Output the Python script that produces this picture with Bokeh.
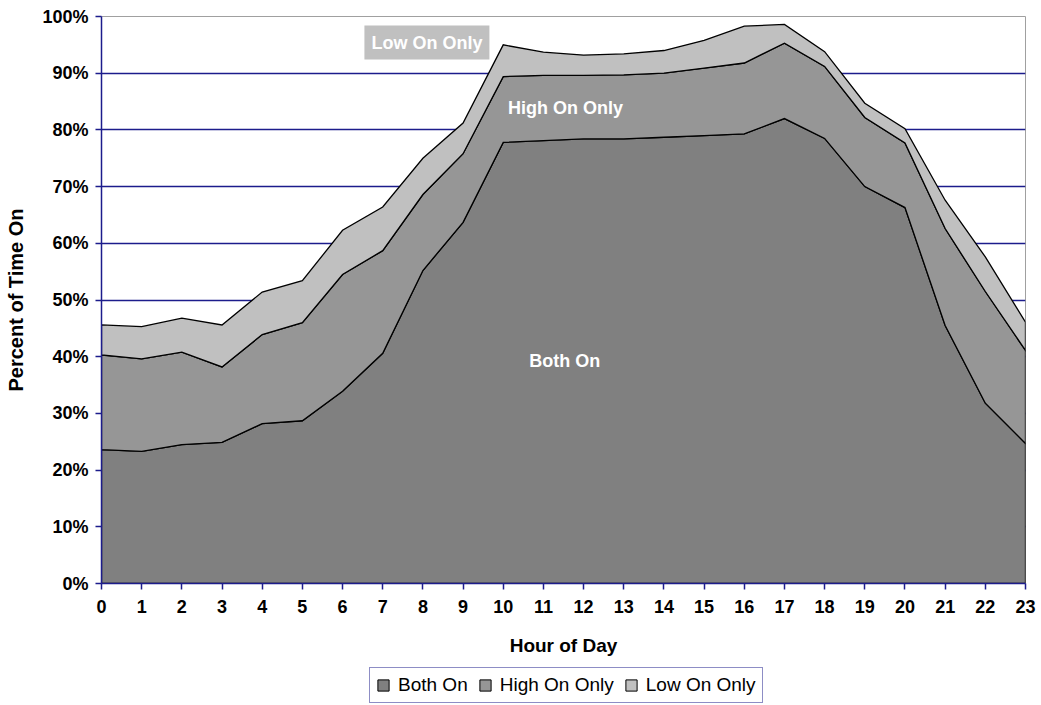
from bokeh.plotting import figure
from bokeh.layouts import column
from bokeh.models import (Label, Legend, LegendItem, FixedTicker,
                          PrintfTickFormatter, Range1d)
from bokeh.embed import file_html
from bokeh.resources import INLINE

# ---- data (percent of time on, by hour of day) ----
hours = list(range(24))
both_on = [23.6, 23.3, 24.5, 24.9, 28.2, 28.7, 33.9, 40.6, 55.2, 63.7, 77.8, 78.1,
           78.4, 78.4, 78.7, 79.0, 79.3, 82.0, 78.5, 70.0, 66.3, 45.5, 31.8, 24.7]
high_on_only = [16.7, 16.3, 16.3, 13.3, 15.7, 17.3, 20.6, 18.1, 13.4, 12.1, 11.6, 11.5,
                11.2, 11.3, 11.3, 11.9, 12.5, 13.3, 12.7, 12.2, 11.4, 17.1, 19.7, 16.4]
low_on_only = [5.3, 5.7, 6.0, 7.4, 7.5, 7.4, 7.8, 7.7, 6.4, 5.4, 5.6, 4.1,
               3.6, 3.7, 4.0, 4.9, 6.5, 3.3, 2.6, 2.5, 2.5, 5.0, 6.1, 5.0]
series_names = ["Both On", "High On Only", "Low On Only"]
colors = ["#808080", "#969696", "#c0c0c0"]
y_ticks = list(range(0, 101, 10))
x_ticks = hours

FONT = "Liberation Sans"
NAVY = "#1c1c8c"

p = figure(width=1041, height=660, x_range=Range1d(0, 23), y_range=Range1d(0, 100),
           output_backend="svg", toolbar_location=None,
           min_border_left=101, min_border_right=16, min_border_top=16, min_border_bottom=77)
p.background_fill_color = "white"
p.border_fill_color = "white"
p.outline_line_color = "#a0a0a0"
p.outline_line_width = 1

# legend strip (separate figure so the legend is not clipped by the chart frame)
lg = figure(width=1041, height=45, output_backend="svg", toolbar_location=None,
            x_axis_type=None, y_axis_type=None,
            min_border_left=0, min_border_right=0, min_border_top=0, min_border_bottom=0)
lg.outline_line_color = None
lg.xgrid.visible = False
lg.ygrid.visible = False

# stacked areas as outlined polygons built from the cumulative series
lower = [0.0] * len(hours)
items = []
for name, vals, c in zip(series_names, [both_on, high_on_only, low_on_only], colors):
    upper = [a + b for a, b in zip(lower, vals)]
    xs = hours + hours[::-1]
    ys = upper + lower[::-1]
    p.patch(x=xs, y=ys, fill_color=c, line_color="black", line_width=1.3, line_join="miter")
    r = lg.patch(x=xs, y=ys, fill_color=c, line_color="black", line_width=1, visible=False)
    items.append(LegendItem(label=name, renderers=[r]))
    lower = upper

# grid
p.xgrid.visible = False
p.ygrid.grid_line_color = NAVY
p.ygrid.grid_line_width = 1.5
p.ygrid.ticker = FixedTicker(ticks=y_ticks)

# axes
p.yaxis.ticker = FixedTicker(ticks=y_ticks)
p.yaxis.formatter = PrintfTickFormatter(format="%d%%")
p.xaxis.ticker = FixedTicker(ticks=x_ticks)
for ax in (p.xaxis, p.yaxis):
    ax.axis_line_color = NAVY
    ax.axis_line_width = 1.5
    ax.major_tick_line_color = NAVY
    ax.major_tick_line_width = 1.5
    ax.major_tick_in = 0
    ax.major_tick_out = 6
    ax.minor_tick_line_color = None
    ax.major_label_text_font = FONT
    ax.major_label_text_font_size = "18px"
    ax.major_label_text_font_style = "bold"
    ax.major_label_text_color = "black"
    ax.axis_label_text_font = FONT
    ax.axis_label_text_font_size = "19px"
    ax.axis_label_text_font_style = "bold"
    ax.axis_label_text_color = "black"
p.xaxis.axis_label = "Hour of Day"
p.yaxis.axis_label = "Percent of Time On"
p.yaxis.axis_label_text_font_size = "20px"
p.xaxis.major_label_standoff = 10
p.xaxis.axis_label_standoff = 19
p.yaxis.major_label_standoff = 7
p.yaxis.axis_label_standoff = 12

# in-chart labels
p.add_layout(Label(x=8.1, y=95.4, text="Low On Only", text_color="white",
                   text_font=FONT, text_font_size="18px", text_font_style="bold",
                   text_align="center", text_baseline="middle",
                   background_fill_color="#c0c0c0", padding=7))
p.add_layout(Label(x=11.55, y=83.8, text="High On Only", text_color="white",
                   text_font=FONT, text_font_size="18px", text_font_style="bold",
                   text_align="center", text_baseline="middle"))
p.add_layout(Label(x=11.53, y=39.2, text="Both On", text_color="white",
                   text_font=FONT, text_font_size="18px", text_font_style="bold",
                   text_align="center", text_baseline="middle"))

legend = Legend(items=items, orientation="horizontal", location=(268, 2),
                border_line_color=NAVY, border_line_width=1.5,
                background_fill_color="white", background_fill_alpha=1,
                label_text_font=FONT, label_text_font_size="19px", label_text_color="black",
                glyph_width=14, glyph_height=14, label_standoff=8, spacing=10,
                padding=6, margin=0, inactive_fill_alpha=0)
lg.add_layout(legend)

open("out.html", "w").write(file_html(column(p, lg, spacing=0), INLINE))
